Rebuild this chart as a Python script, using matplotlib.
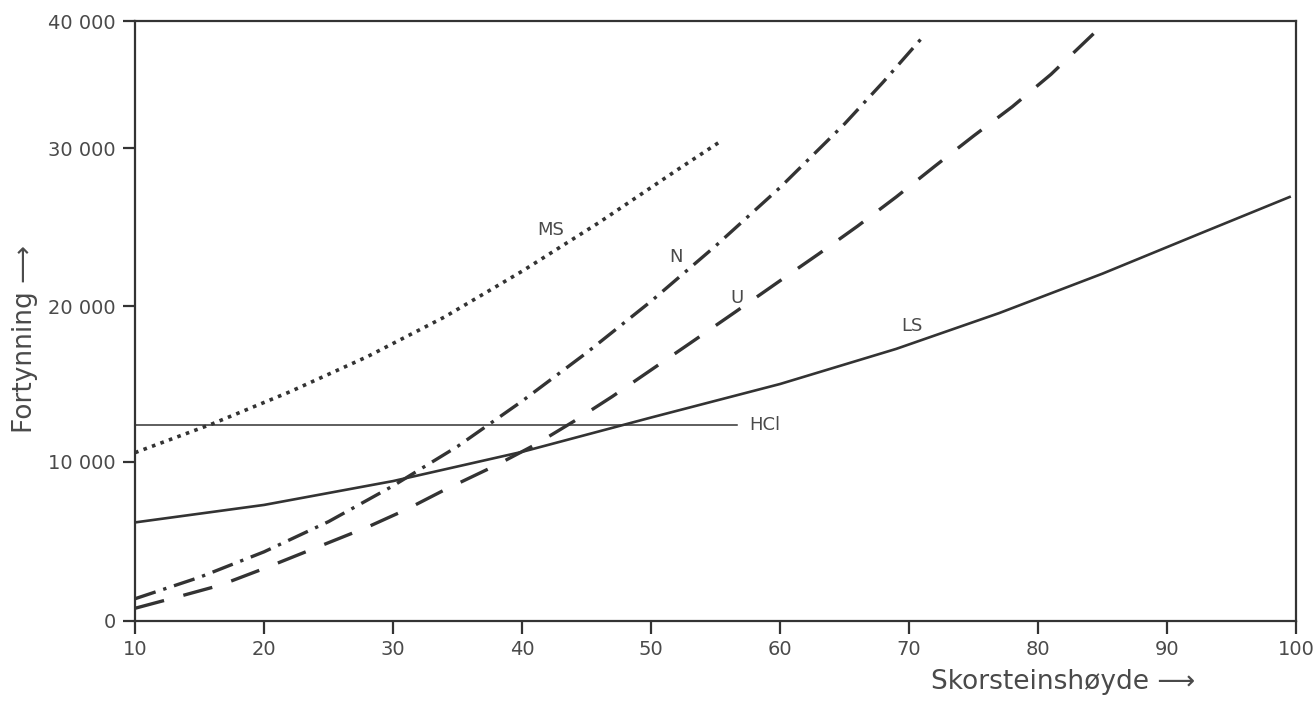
import numpy as np
import matplotlib.pyplot as plt
from matplotlib.scale import FuncScale
from matplotlib.ticker import FuncFormatter

# curves (x = Skorsteinshøyde, y = Fortynning)
ms_x = [10, 16, 22, 28, 34, 40, 46, 52, 55.5]
ms_y = [10600, 12450, 14500, 16750, 19300, 22200, 25300, 28600, 30600]

n_x = [10, 15, 20, 25, 30, 35, 40, 45, 50, 55, 60, 65, 68, 71.2]
n_y = [1400, 2750, 4350, 6250, 8500, 11000, 13900, 17000, 20300, 23800, 27500, 31900, 35200, 38900]

u_x = [10, 13, 16.6, 20, 24, 28, 31, 34, 38, 41, 44, 47, 50, 53, 56.5, 60, 63, 66, 69, 72, 75, 78, 81, 84.3]
u_y = [800, 1450, 2250, 3300, 4600, 5900, 7000, 8250, 9800, 11100, 12600, 14200, 15900,
       17600, 19600, 21600, 23300, 25050, 26900, 28850, 30950, 33250, 35800, 39000]

ls_x = [10, 20, 30, 40, 50, 60, 69, 77, 85, 92.6, 99.5]
ls_y = [6200, 7300, 8800, 10650, 12850, 15000, 17250, 19550, 22050, 24600, 26900]

hcl_x = [10, 56.7]
hcl_y = [12400, 12400]

x_ticks = [10, 20, 30, 40, 50, 60, 70, 80, 90, 100]
y_ticks = [0, 10000, 20000, 30000, 40000]

# the printed y axis is not evenly spaced: top decade is squeezed
y_pos = [0, 159, 315, 473, 600]


def fwd(v):
    return np.interp(v, y_ticks, y_pos)


def inv(p):
    return np.interp(p, y_pos, y_ticks)


ink = '#333333'
txt = '#4a4a4a'

fig = plt.figure(figsize=(13.15, 7.22), dpi=100)
ax = fig.add_axes([0.1027, 0.1399, 0.8829, 0.831])
ax.set_yscale(FuncScale(ax, (fwd, inv)))

ax.plot(ms_x, ms_y, color=ink, lw=2.6, linestyle=(0, (1.0, 1.5)))
ax.plot(n_x, n_y, color=ink, lw=2.4, linestyle=(0, (6.5, 2.4, 1.0, 2.4)))
ax.plot(u_x, u_y, color=ink, lw=2.4, linestyle=(0, (9, 6)))
ax.plot(ls_x, ls_y, color=ink, lw=1.9)
ax.plot(hcl_x, hcl_y, color=ink, lw=1.1)

ax.text(42.2, 24800, 'MS', color=txt, fontsize=13, ha='center', va='center')
ax.text(51.9, 23100, 'N', color=txt, fontsize=13, ha='center', va='center')
ax.text(56.7, 20500, 'U', color=txt, fontsize=13, ha='center', va='center')
ax.text(70.2, 18700, 'LS', color=txt, fontsize=13, ha='center', va='center')
ax.text(57.6, 12400, 'HCl', color=txt, fontsize=13, ha='left', va='center')

ax.set_xlim(10, 100)
ax.set_ylim(0, 40000)
ax.set_xticks(x_ticks)
ax.set_yticks(y_ticks)
ax.yaxis.set_major_formatter(FuncFormatter(lambda v, p: f'{int(v):,}'.replace(',', ' ')))
ax.yaxis.set_minor_locator(plt.NullLocator())

for s in ax.spines.values():
    s.set_color(ink)
    s.set_linewidth(1.6)
ax.tick_params(direction='out', length=9, width=1.6, color=ink,
               labelcolor=txt, labelsize=14, pad=5)
ax.tick_params(axis='x', pad=5)

fig.text(0.909, 0.055, 'Skorsteinshøyde ⟶', color=txt, fontsize=19,
         ha='right', va='center')
fig.text(0.019, 0.53, 'Fortynning ⟶', color=txt, fontsize=19,
         ha='center', va='center', rotation=90)

fig.savefig('out.png', dpi=100, facecolor='white')
